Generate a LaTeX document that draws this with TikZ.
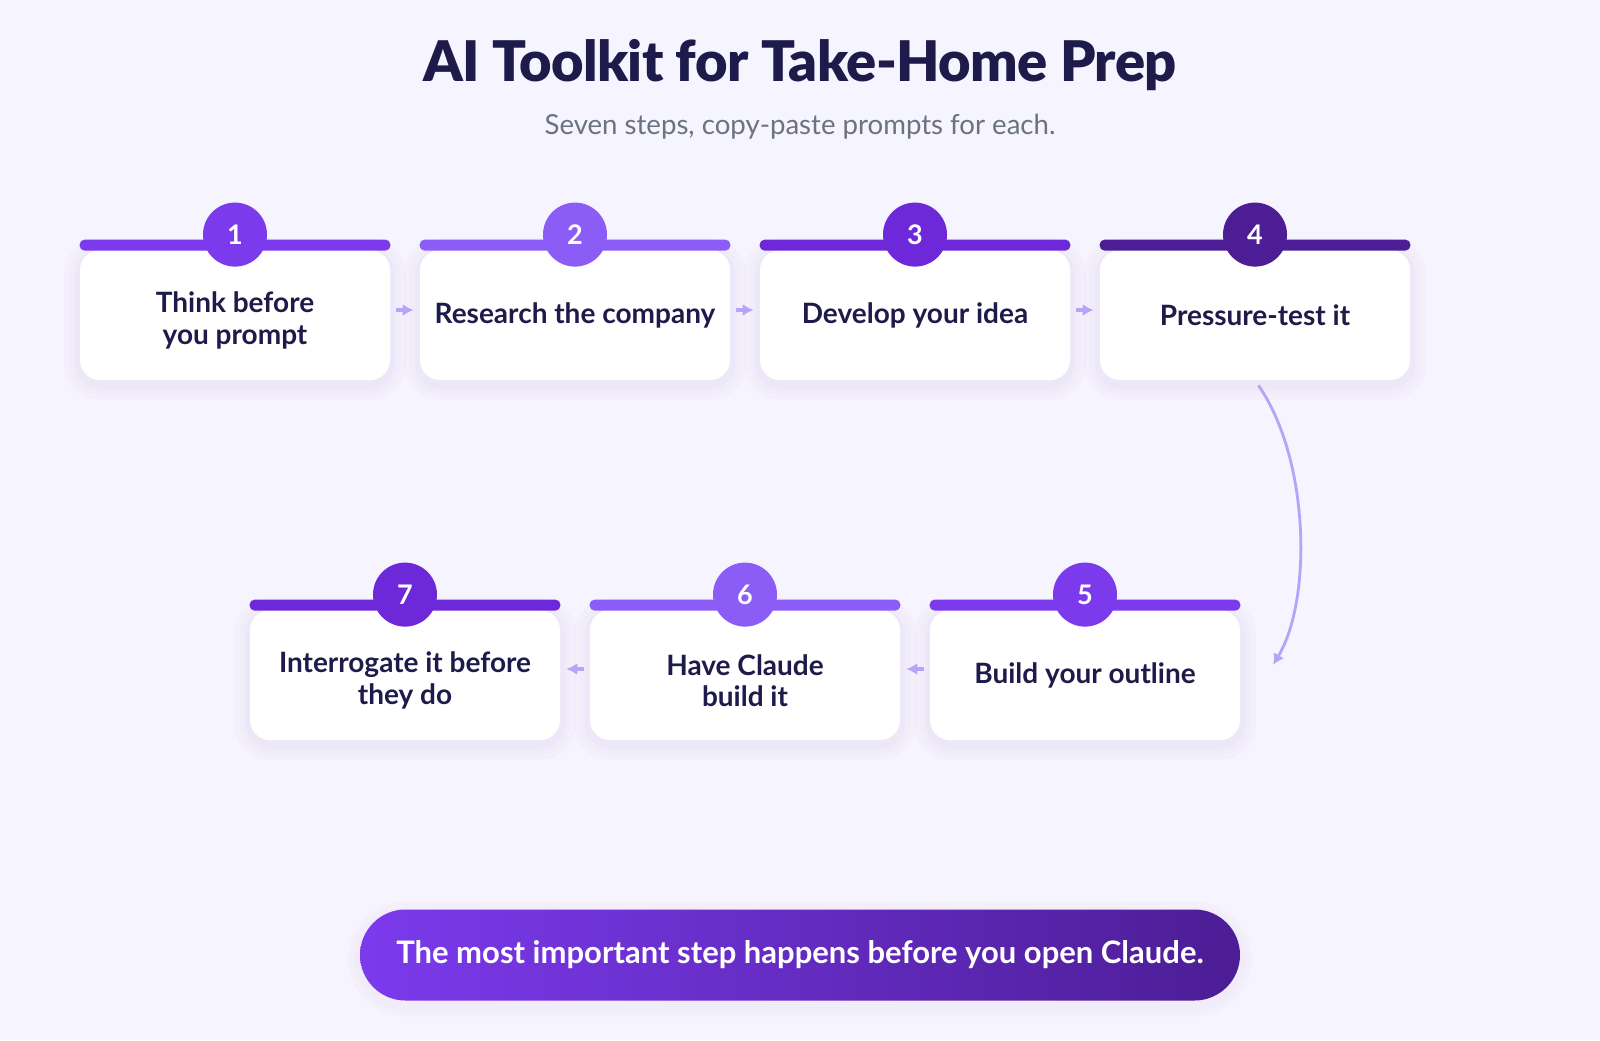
\documentclass[tikz,border=0pt]{standalone}
\usepackage{fontspec}
\setmainfont{Lato}
\newfontfamily\titlefont{Lato}[UprightFont=* Black]
\usetikzlibrary{arrows.meta}

\definecolor{bg}{HTML}{F6F4FE}
\definecolor{ink}{HTML}{1E1B4B}
\definecolor{muted}{HTML}{6B7280}
\definecolor{v5}{HTML}{8B5CF6}
\definecolor{v6}{HTML}{7C3AED}
\definecolor{v7}{HTML}{6D28D9}
\definecolor{v9}{HTML}{4C1D95}
\definecolor{link}{HTML}{B7A3F8}

\tikzset{
  glow/.style={preaction={draw=v9, draw opacity=0.016, line width=#1, transform canvas={yshift=-2pt}}},
  card/.style={fill=white, rounded corners=10pt, minimum width=155pt, minimum height=65pt,
    align=center, text=ink, font=\fontsize{14}{15.8}\selectfont\bfseries,
    glow=16pt, glow=10pt, glow=5pt},
  badge/.style={circle, minimum size=32pt, inner sep=0pt, text=white,
    font=\fontsize{13.5}{15}\selectfont\bfseries},
  flow/.style={draw=link, line width=1.8pt, -{Latex[length=5.5pt,width=6pt]},
    shorten <=3pt, shorten >=3pt},
  banner/.style={rounded corners=22.75pt, minimum width=440pt, minimum height=45.5pt,
    left color=v6, right color=v9, text=white, font=\fontsize{15.5}{18}\selectfont\bfseries,
    glow=12pt, glow=6pt}
}

\newcommand{\topbar}[2]{\fill[#2, rounded corners=2.5pt] ([yshift=5pt]#1.north west) rectangle ([yshift=-0.5pt]#1.north east);}
\newcommand{\lift}{\rule{0pt}{16pt}}

\begin{document}
\begin{tikzpicture}[x=0.5pt, y=-0.5pt]
  \fill[bg] (0,0) rectangle (1600,1040);

  \node[text=ink, font=\titlefont\fontsize{28}{32}\selectfont\addfontfeatures{LetterSpace=-1}] (title) at (800,65) {AI Toolkit for Take-Home Prep};
  \node[text=muted, font=\fontsize{13.8}{16}\selectfont] (sub) at (800,127) {Seven steps, copy-paste prompts for each.};

  \node[card] (1) at (235,315) {\lift Think before\\you prompt};
  \node[card] (2) at (575,315) {Research the company};
  \node[card] (3) at (915,315) {Develop your idea};
  \node[card] (4) at (1255,315) {Pressure-test it};
  \node[card] (5) at (1085,675) {Build your outline};
  \node[card] (6) at (745,675) {\lift Have Claude\\build it};
  \node[card] (7) at (405,675) {\lift Interrogate it before\\they do};

  \topbar{1}{v6} \topbar{2}{v5} \topbar{3}{v7} \topbar{4}{v9}
  \topbar{5}{v6} \topbar{6}{v5} \topbar{7}{v7}

  \node[badge, fill=v6] (n1) at ([yshift=7.5pt]1.north) {1};
  \node[badge, fill=v5] (n2) at ([yshift=7.5pt]2.north) {2};
  \node[badge, fill=v7] (n3) at ([yshift=7.5pt]3.north) {3};
  \node[badge, fill=v9] (n4) at ([yshift=7.5pt]4.north) {4};
  \node[badge, fill=v6] (n5) at ([yshift=7.5pt]5.north) {5};
  \node[badge, fill=v5] (n6) at ([yshift=7.5pt]6.north) {6};
  \node[badge, fill=v7] (n7) at ([yshift=7.5pt]7.north) {7};

  \draw[flow] ([yshift=2.5pt]1.east) -- ([yshift=2.5pt]2.west);
  \draw[flow] ([yshift=2.5pt]2.east) -- ([yshift=2.5pt]3.west);
  \draw[flow] ([yshift=2.5pt]3.east) -- ([yshift=2.5pt]4.west);
  \draw[flow] ([yshift=3pt]5.west) -- ([yshift=3pt]6.east);
  \draw[flow] ([yshift=3pt]6.west) -- ([yshift=3pt]7.east);

  \coordinate (turn) at (1270,670);
  \draw[flow, line width=1.4pt] (4.south) .. controls (1310,460) and (1312,600) .. (turn);

  \node[banner] (tip) at (800,955) {The most important step happens before you open Claude.};
\end{tikzpicture}
\end{document}
